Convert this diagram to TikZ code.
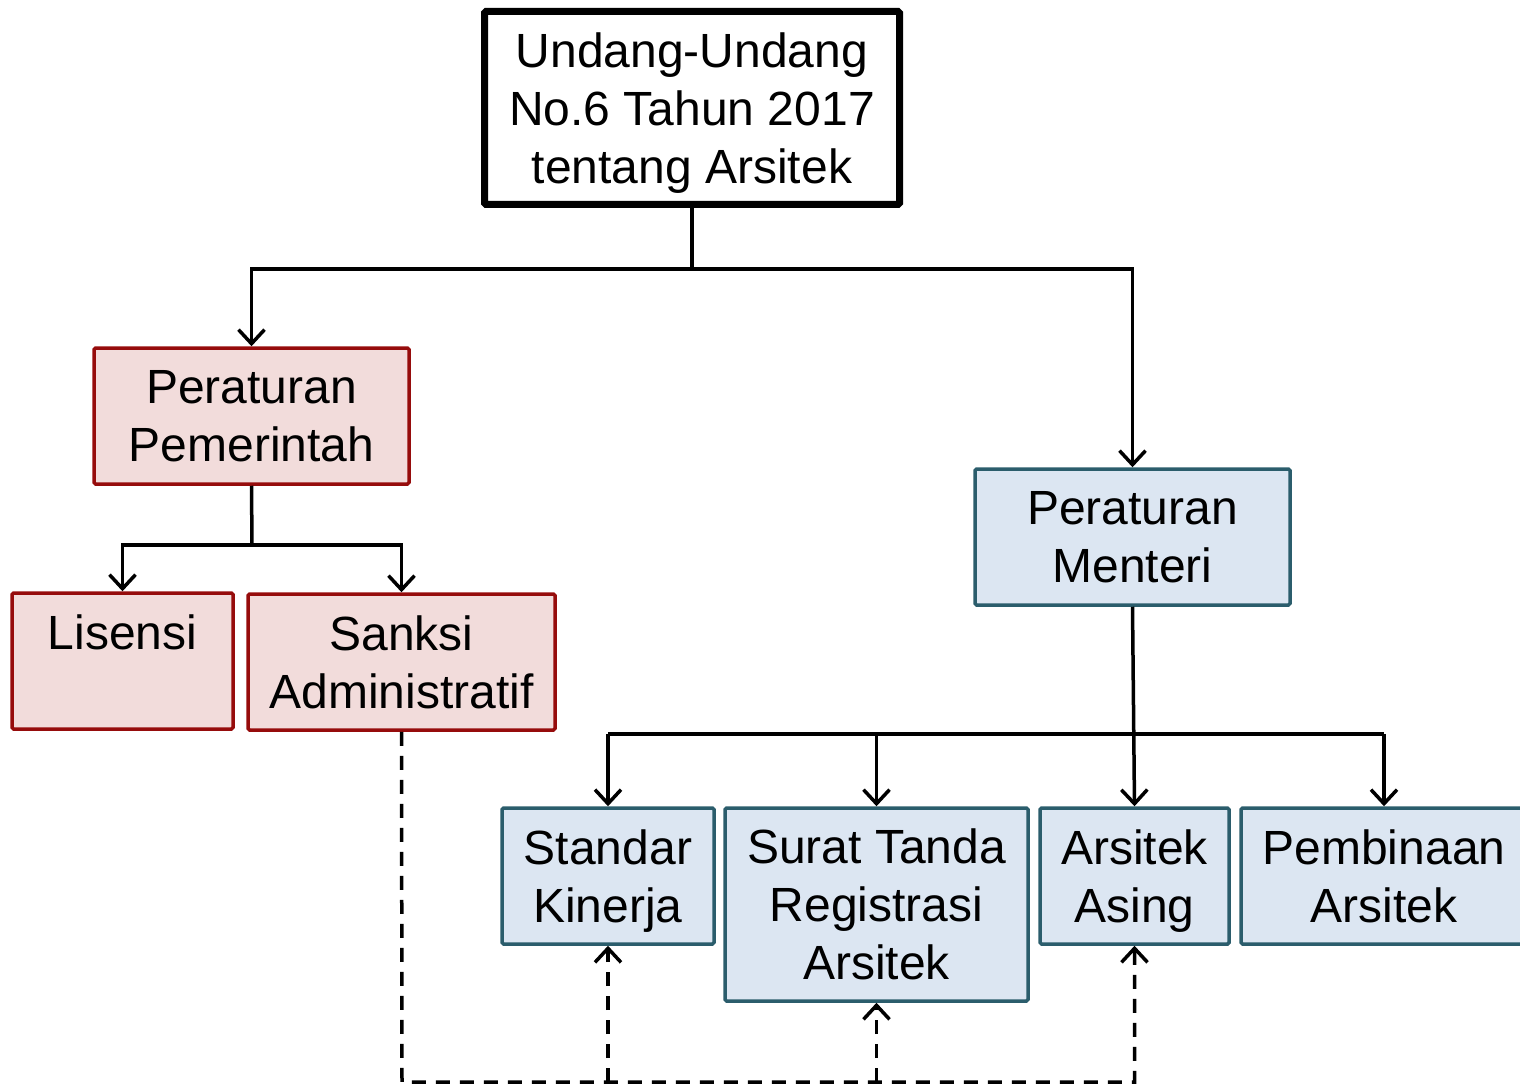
\documentclass[tikz,border=0pt]{standalone}
\usepackage{fontspec}
\setmainfont{Liberation Sans}
\usetikzlibrary{arrows.meta}
\definecolor{pinkfill}{HTML}{F2DCDB}
\definecolor{redline}{HTML}{960C0C}
\definecolor{bluefill}{HTML}{DCE6F2}
\definecolor{blueline}{HTML}{2B5D6C}
\tikzset{
  box/.style={rectangle, inner sep=0pt, align=center, text depth=0pt, font=\fontsize{48}{58}\selectfont, rounded corners=1.5pt},
  topbox/.style={box, draw=black, line width=7pt, fill=white},
  redbox/.style={box, draw=redline, line width=3.5pt, fill=pinkfill},
  bluebox/.style={box, draw=blueline, line width=3.5pt, fill=bluefill},
  conn/.style={line width=3.5pt, black},
  arr/.style={conn, -{Straight Barb[length=14pt,width=26pt]}},
  dsh/.style={dash pattern=on 14pt off 10pt}
}
\begin{document}
\begin{tikzpicture}[x=1pt,y=-1pt]
\useasboundingbox (0,0) rectangle (1520,1086);
% nodes
\node[topbox, minimum width=415pt, minimum height=193pt] (uu) at (692,108) {Undang-Undang\\No.6 Tahun 2017\\tentang Arsitek};
\node[redbox, minimum width=315pt, minimum height=136pt] (pp) at (251.5,416) {Peraturan\\Pemerintah};
\node[redbox, minimum width=221pt, minimum height=136pt] (lis) at (122.5,661) {Lisensi\\\mbox{}};
\node[redbox, minimum width=307pt, minimum height=136pt] (sank) at (401.5,662) {Sanksi\\Administratif};
\node[bluebox, minimum width=315pt, minimum height=136pt] (pm) at (1132.5,537) {Peraturan\\Menteri};
\node[bluebox, minimum width=212pt, minimum height=136pt] (std) at (608,876) {Standar\\Kinerja};
\node[bluebox, minimum width=303pt, minimum height=193pt] (str) at (876.5,904.5) {Surat Tanda\\Registrasi\\Arsitek};
\node[bluebox, minimum width=189pt, minimum height=136pt] (asg) at (1134.5,876) {Arsitek\\Asing};
\node[bluebox, minimum width=286pt, minimum height=136pt] (pmb) at (1384,876) {Pembinaan\\Arsitek};
% junction coordinates
\coordinate (j1) at (692,269);
\coordinate (j2) at (252,545);
\coordinate (j3) at (1133,734);
\coordinate (j4) at (402,1082);
% connectors
\draw[conn] (uu.south) -- (j1);
\draw[arr] (j1) -| (pp.north);
\draw[arr] (j1) -| (pm.north);
\draw[conn] (pp.south) -- (j2);
\draw[arr] (j2) -| (lis.north);
\draw[arr] (j2) -| (sank.north);
\draw[arr] (pm.south) -- (asg.north);
\draw[conn] (std.north |- j3) -- (pmb.north |- j3);
\draw[arr] (std.north |- j3) -- (std.north);
\draw[arr] (str.north |- j3) -- (str.north);
\draw[arr] (pmb.north |- j3) -- (pmb.north);
% dashed
\draw[arr, dsh] (sank.south) -- (j4) -| (asg.south);
\draw[arr, dsh] (std.south |- j4) -- (std.south);
\draw[arr, dsh] (str.south |- j4) -- (str.south);
\end{tikzpicture}
\end{document}
